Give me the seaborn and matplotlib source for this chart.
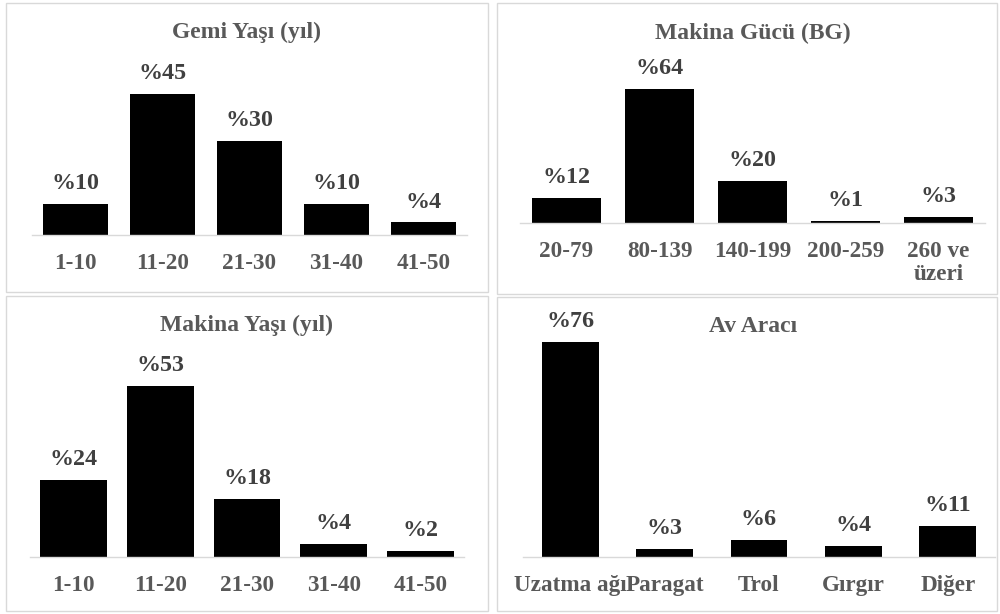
import matplotlib
matplotlib.use("Agg")
import matplotlib.pyplot as plt
from matplotlib.patches import Rectangle
import seaborn as sns
import pandas as pd

sns.set_theme(style="white")
plt.rcParams['font.family'] = ['Liberation Serif', 'DejaVu Serif']
plt.rcParams['font.weight'] = 'bold'

# ---- data ----
gemi_yasi_labels = ["1-10", "11-20", "21-30", "31-40", "41-50"]
gemi_yasi_values = [10, 45, 30, 10, 4]

makina_gucu_labels = ["20-79", "80-139", "140-199", "200-259", "260 ve\nüzeri"]
makina_gucu_values = [12, 64, 20, 1, 3]

makina_yasi_labels = ["1-10", "11-20", "21-30", "31-40", "41-50"]
makina_yasi_values = [24, 53, 18, 4, 2]

av_araci_labels = ["Uzatma ağı", "Paragat", "Trol", "Gırgır", "Diğer"]
av_araci_values = [76, 3, 6, 4, 11]

titles = ["Gemi Yaşı (yıl)", "Makina Gücü (BG)", "Makina Yaşı (yıl)", "Av Aracı"]

W, H = 1000, 614
fig = plt.figure(figsize=(W / 100, H / 100), dpi=100)
fig.patch.set_facecolor("white")

def fx(px):
    return px / W

def fy(py):
    return 1 - py / H

# panel borders (pixel boxes)
boxes = [(6, 3, 488, 292), (497, 3, 997, 294), (6, 296, 488, 611), (497, 297, 997, 611)]
for (x0, y0, x1, y1) in boxes:
    fig.patches.append(Rectangle((fx(x0), fy(y1)), fx(x1 - x0), (y1 - y0) / H,
                                 transform=fig.transFigure, fill=False,
                                 edgecolor="#d9d9d9", linewidth=1.0))

# axes layout: (left px, right px, top px, baseline px, ymax, bar width, title center x, title y)
specs = [
    (32, 467, 20, 235, 68.7, 0.75, 247, 32),
    (520, 985, 20, 223, 97.0, 0.75, 753, 33),
    (30, 464, 310, 557, 76.5, 0.77, 247, 325),
    (523, 995, 310, 557, 87.3, 0.60, 753, 327),
]
datasets = [
    (gemi_yasi_labels, gemi_yasi_values),
    (makina_gucu_labels, makina_gucu_values),
    (makina_yasi_labels, makina_yasi_values),
    (av_araci_labels, av_araci_values),
]

for (l, r, t, b, ymax, bw, tx, ty), (labels, vals), title in zip(specs, datasets, titles):
    ax = fig.add_axes([fx(l), fy(b), fx(r - l), (b - t) / H])
    df = pd.DataFrame({"cat": labels, "val": vals})
    sns.barplot(data=df, x="cat", y="val", color="black", width=bw,
                saturation=1, ax=ax, edgecolor="none")
    ax.set_xlim(-0.5, len(labels) - 0.5)
    ax.set_ylim(0, ymax)
    ax.set_facecolor("none")
    for s in ["top", "right", "left"]:
        ax.spines[s].set_visible(False)
    ax.spines["bottom"].set_color("#d9d9d9")
    ax.spines["bottom"].set_linewidth(1.0)
    ax.set_yticks([])
    ax.set_xlabel("")
    ax.set_ylabel("")
    ax.tick_params(axis="x", length=0, pad=13, labelsize=16.7, labelcolor="#595959")
    for lab in ax.get_xticklabels():
        lab.set_fontweight("bold")
        lab.set_linespacing(1.15)
    for i, v in enumerate(vals):
        ax.annotate(f"%{v}", (i, v), xytext=(0, 7), textcoords="offset points",
                    ha="center", va="bottom", fontsize=17.3, fontweight="bold",
                    color="#404040")
    fig.text(fx(tx), fy(ty), title, ha="center", va="center", fontsize=17,
             fontweight="bold", color="#595959")

fig.savefig("out.png", dpi=100, facecolor="white")
